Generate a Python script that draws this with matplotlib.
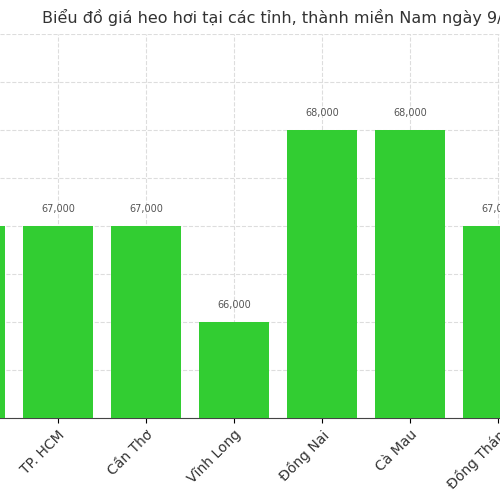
import matplotlib
matplotlib.use("Agg")
import matplotlib.pyplot as plt

provinces = ["Bình Dương", "TP. HCM", "Cần Thơ", "Vĩnh Long", "Đồng Nai", "Cà Mau", "Đồng Tháp"]
prices = [67000, 67000, 67000, 66000, 68000, 68000, 67000]

fig = plt.figure(figsize=(5, 5), dpi=100)
# axes spans beyond the visible crop
ax = fig.add_axes([0, 82/500, 1, (418-34)/500])
x = list(range(len(provinces)))
bars = ax.bar(x, prices, width=0.8, color="#32CD32", zorder=3)
ax.set_yticks([65000 + 500*i for i in range(9)])
ax.tick_params(axis="y", left=False, labelleft=False)
ax.set_xticks(x)
ax.set_xticklabels(provinces, rotation=45, ha="right", rotation_mode="anchor", fontsize=10, color="#333333")
ax.set_xlim((0+30)/88, (500+30)/88)
ax.set_ylim(65000, 69000)
ax.grid(True, linestyle="--", color="#dddddd", linewidth=0.8, zorder=0)
for s in ["top", "right", "left"]:
    ax.spines[s].set_visible(False)
ax.spines["bottom"].set_color("#444444")
for b, v in zip(bars, prices):
    ax.text(b.get_x() + b.get_width()/2, v + 120, f"{v:,}", ha="center", va="bottom", fontsize=7, color="#555555")
fig.text(42/500, 1 - 17/500, "Biểu đồ giá heo hơi tại các tỉnh, thành miền Nam ngày 9/10",
         ha="left", va="center", fontsize=11.5, color="#333333")
fig.savefig("out.png", dpi=100)
